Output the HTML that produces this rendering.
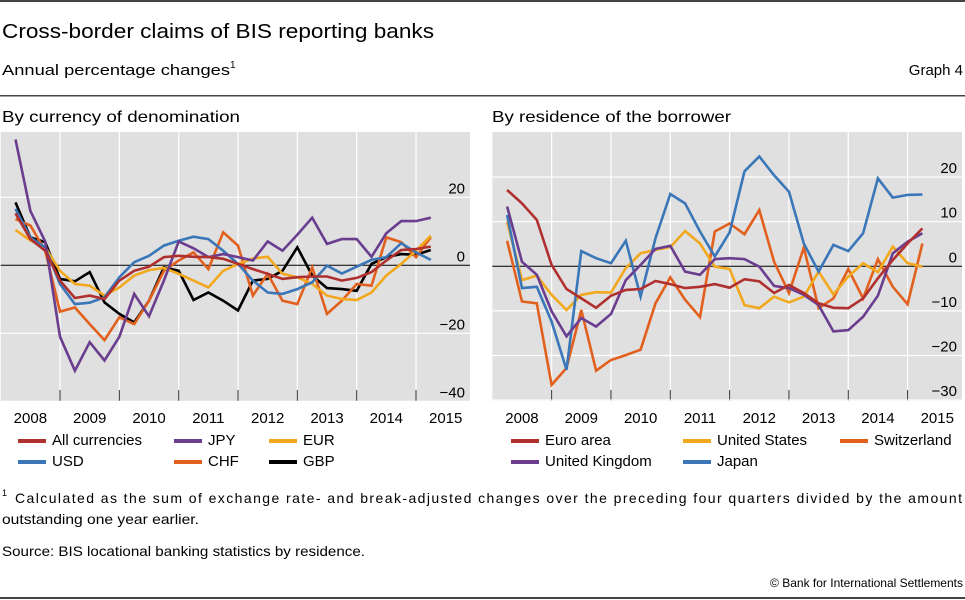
<!DOCTYPE html>
<html><head><meta charset="utf-8"><style>
body{margin:0;background:#fff;}
svg{display:block;font-family:"Liberation Sans",sans-serif;}
</style></head><body>
<svg id="c" width="965" height="600" viewBox="0 0 965 600">
<rect x="0" y="0" width="965" height="2" fill="#444"/>
<text x="2" y="38" font-size="20" fill="#000" textLength="432" lengthAdjust="spacingAndGlyphs">Cross-border claims of BIS reporting banks</text>
<text x="2" y="75" font-size="15"><tspan textLength="228" lengthAdjust="spacingAndGlyphs">Annual percentage changes</tspan><tspan font-size="10" dy="-7">1</tspan></text>
<text x="963" y="75" font-size="15" text-anchor="end">Graph 4</text>
<rect x="0" y="95" width="965" height="1.5" fill="#444"/>
<text x="2" y="122" font-size="16" textLength="238" lengthAdjust="spacingAndGlyphs">By currency of denomination</text>
<text x="492" y="122" font-size="16" textLength="239" lengthAdjust="spacingAndGlyphs">By residence of the borrower</text>
<g id="left"></g>
<g id="right"></g>
<text x="2" y="496" font-size="9">1</text>
<text x="15" y="503" font-size="14" textLength="947" lengthAdjust="spacing">Calculated as the sum of exchange rate- and break-adjusted changes over the preceding four quarters divided by the amount</text>
<text x="2" y="524" font-size="14" textLength="197" lengthAdjust="spacingAndGlyphs">outstanding one year earlier.</text>
<text x="2" y="556" font-size="14" textLength="363" lengthAdjust="spacingAndGlyphs">Source: BIS locational banking statistics by residence.</text>
<text x="963" y="587" font-size="12" text-anchor="end">© Bank for International Settlements</text>
<rect x="0" y="597" width="965" height="2" fill="#444"/>
</svg>
<script>
const years=["2008","2009","2010","2011","2012","2013","2014","2015"];
const leftTicks=[20,0,-20,-40];
const rightTicks=[20,10,0,-10,-20,-30];
const leftNames=["All currencies","JPY","EUR","USD","CHF","GBP"];
const allCur=[15.3,7.7,4.3,-4.5,-9.6,-8.9,-9.9,-4.5,-1.6,-0.4,2.4,2.8,2.5,2.4,1.9,0.4,-1.1,-2.5,-4,-3.5,-3.3,-3.3,-4.5,-3.7,-2,1.4,4.5,4.8,5.5];
const jpy=[37,16,7,-21,-31,-22.6,-28,-21,-8.4,-15,-4.5,7,5,2.4,3.3,2.4,1.4,7,4.3,9,14,6.3,7.7,7.7,2.5,9.4,13,13,14];
const eur=[10.4,7.3,5.3,-1.6,-5.5,-6,-8.9,-6.5,-3,-1.4,-0.8,-2.5,-4.5,-6.5,-1.6,0.4,2,2.5,-2.5,-3.5,-5.5,-8.9,-9.9,-10.2,-8,-3,0.4,4.3,8.7];
const usd=[16.6,8.2,5.3,-5.5,-11.4,-11,-9.4,-3.5,0.9,2.8,5.8,7.2,8.4,7.7,4.3,0.4,-4.5,-8,-8.4,-7,-5,-0.1,-2.4,-0.4,1.6,2.4,6.5,3.8,1.6];
const chf=[13.6,11.7,4.3,-13.6,-12.4,-17.3,-22,-15.3,-17.3,-10.4,-1.6,1.4,3.8,-1.1,9.7,5.8,-8.9,-2.5,-10.4,-11.4,-0.6,-14.3,-10.4,-5.5,-6,8.2,6.8,2.4,8.2];
const gbp=[18.5,8.2,6.8,-4,-4.7,-2,-10.9,-14.3,-16.8,-10.4,-0.6,-1.6,-10.2,-8,-10.4,-13.3,-4.5,-4,-1.6,5.3,-3,-6.7,-7,-7.5,0.4,2.4,3.3,3.1,4.5];
const rightNames=["Euro area","United States","Switzerland","United Kingdom","Japan"];
const euroArea=[17.1,14.1,10.4,0.3,-5.1,-7.2,-9.3,-6.6,-5.3,-5.1,-3.3,-4,-4.9,-4.6,-4,-4.8,-2.9,-3.4,-6,-4.2,-6,-8.3,-9.3,-9.4,-7.2,-2.7,1.4,5.1,8.5];
const us=[10,-3.1,-2.1,-6.4,-9.8,-6.4,-5.8,-5.9,-0.4,2.9,3.7,4.3,7.9,5.1,-0.1,-0.6,-8.7,-9.4,-6.8,-8.1,-6.8,-1.2,-6.3,-2.3,0.7,-1.3,4.4,0.7,-0.1];
const swiss=[5.7,-7.9,-8.3,-26.6,-22.8,-9.8,-23.4,-21,-19.9,-18.7,-8.3,-2.5,-7.5,-11.4,7.8,9.6,7.2,12.6,1,-6,4.2,-9.4,-7.2,-0.6,-7.2,1.6,-4.6,-8.5,5.1];
const uk=[13.4,1,-1.9,-10.1,-15.7,-11.6,-13.5,-10.7,-3.1,0.3,3.9,4.6,-1.2,-1.9,1.6,1.8,1.6,-0.1,-4.4,-4.9,-6.4,-8.7,-14.6,-14.3,-11.3,-6.6,2.9,5.5,7.4];
const japan=[11.5,-4.9,-4.6,-12.4,-23.2,3.4,1.8,0.7,5.7,-6.8,6.3,16.2,14.1,7.8,2.2,7.6,21.3,24.6,20.4,16.7,5.1,-1.2,4.8,3.4,7.4,19.7,15.4,16,16.1];

const C={red:"#b03030",purple:"#6a3d8f",yellow:"#f2a81d",blue:"#3a76b8",orange:"#e2601e",black:"#000"};
const NS="http://www.w3.org/2000/svg";
function mk(tag,attrs,parent){const e=document.createElementNS(NS,tag);for(const k in attrs)e.setAttribute(k,attrs[k]);parent.appendChild(e);return e;}

function panel(g,cfg){
  const {x0,x1,yTop,yBot,vMin,vMax,ticks,series,legend}=cfg;
  const yearW=59.33;
  const xq=i=>x0+yearW*(i+1)/4;
  const ys=v=>yBot-(v-vMin)/(vMax-vMin)*(yBot-yTop);
  const bg=mk('rect',{x:x0,y:yTop,width:x1-x0,height:yBot-yTop,fill:'#e0e0e0'},g);
  
  
  for(let i=1;i<years.length;i++){
    const gx=x0+yearW*i;
    const l=mk('line',{x1:gx,x2:gx,y1:yTop,y2:yBot,stroke:'#fff','stroke-width':1.2},g);
    
    
    const t=mk('line',{x1:gx,x2:gx,y1:yBot-11,y2:yBot,stroke:'#333','stroke-width':1},g);
    
    
  }
  years.forEach((y,i)=>{
    const t=mk('text',{x:x0+yearW*(i+0.5),y:yBot+22,'font-size':15,'text-anchor':'middle'},g);
    t.textContent=y;
    
    
  });
  ticks.forEach(v=>{
    const yy=ys(v);
    if(v!==0){
      const l=mk('line',{x1:x0,x2:x1,y1:yy,y2:yy,stroke:'#fff','stroke-width':1.2},g);
      
      
    }
    const t=mk('text',{x:x1-5,y:yy-4,'font-size':15,'text-anchor':'end'},g);
    t.textContent=v<0?'\u2212'+Math.abs(v):String(v);
    
    
  });
  const z=mk('line',{x1:x0,x2:x1,y1:ys(0),y2:ys(0),stroke:'#000','stroke-width':1},g);
  
  
  series.forEach(s=>{
    const p=mk('polyline',{points:s.data.map((v,i)=>xq(i).toFixed(1)+','+ys(v).toFixed(1)).join(' '),fill:'none',stroke:s.color,'stroke-width':2.6,'stroke-linejoin':'miter'},g);
    
    
  });
  legend.forEach(e=>{
    const sw=mk('rect',{x:e.x,y:e.y-6,width:28,height:4,fill:e.color},g);
    
    
    const t=mk('text',{x:e.x+34,y:e.y,'font-size':15},g);
    t.textContent=e.label;
    
    
  });
}

panel(document.getElementById('left'),{x0:0.7,x1:470,yTop:132,yBot:401,vMin:-39.9,vMax:39.2,ticks:leftTicks,
 series:[
  {key:'gbp',data:gbp,color:C.black},{key:'chf',data:chf,color:C.orange},{key:'eur',data:eur,color:C.yellow},
  {key:'usd',data:usd,color:C.blue},{key:'jpy',data:jpy,color:C.purple},{key:'all-currencies',data:allCur,color:C.red}],
 legend:[
  {x:18,y:445,label:leftNames[0],color:C.red},{x:174,y:445,label:leftNames[1],color:C.purple},{x:269,y:445,label:leftNames[2],color:C.yellow},
  {x:18,y:466,label:leftNames[3],color:C.blue},{x:174,y:466,label:leftNames[4],color:C.orange},{x:269,y:466,label:leftNames[5],color:C.black}]});

panel(document.getElementById('right'),{x0:492.3,x1:962,yTop:132,yBot:401,vMin:-30.2,vMax:30.1,ticks:rightTicks,
 series:[
  {key:'switzerland',data:swiss,color:C.orange},{key:'united-states',data:us,color:C.yellow},{key:'japan',data:japan,color:C.blue},
  {key:'united-kingdom',data:uk,color:C.purple},{key:'euro-area',data:euroArea,color:C.red}],
 legend:[
  {x:511,y:445,label:rightNames[0],color:C.red},{x:683,y:445,label:rightNames[1],color:C.yellow},{x:840,y:445,label:rightNames[2],color:C.orange},
  {x:511,y:466,label:rightNames[3],color:C.purple},{x:683,y:466,label:rightNames[4],color:C.blue}]});
</script>
</body></html>
